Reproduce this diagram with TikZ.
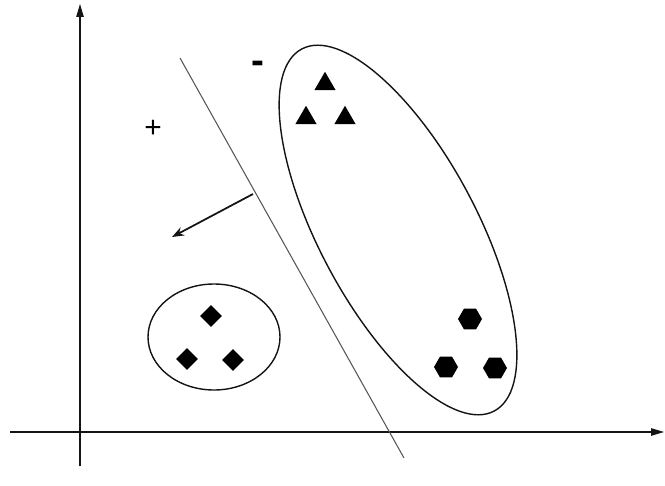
\documentclass[tikz,border=0pt]{standalone}
\usepackage{fontspec}
\setmainfont{Liberation Sans}
\usepackage{tikz}
\usetikzlibrary{arrows.meta,shapes.geometric}
\definecolor{ink}{RGB}{20,20,20}
\definecolor{sep}{RGB}{85,85,85}
\tikzset{
  axis/.style={draw=ink,line width=0.6pt,-{Triangle[length=2.6mm,width=1.5mm]}},
  hyper/.style={draw=sep,line width=0.6pt},
  normal/.style={draw=ink,line width=1pt,-{Stealth[length=2.4mm,width=1.8mm]}},
  group/.style={draw=ink,line width=0.8pt},
  tri/.style={regular polygon,regular polygon sides=3,fill=black,inner sep=0pt,minimum size=4.9mm},
  dia/.style={diamond,fill=black,inner sep=0pt,minimum size=4.4mm},
  hexa/.style={regular polygon,regular polygon sides=6,fill=black,inner sep=0pt,minimum size=4.8mm},
  sgn/.style={inner sep=1pt},
}

\begin{document}
\begin{tikzpicture}[x=0.02cm,y=-0.02cm]
  \useasboundingbox (0,0) rectangle (665,486);
  % axes
  \coordinate (ybot) at (80,466);
  \coordinate (ytop) at (80,4);
  \coordinate (xlft) at (10,432);
  \coordinate (xrgt) at (664,432);
  \draw[axis] (ybot) -- (ytop);
  \draw[axis] (xlft) -- (xrgt);
  % separating line and its normal
  \coordinate (h1) at (180,58);
  \coordinate (h2) at (404,458);
  \draw[hyper] (h1) -- (h2);
  \coordinate (foot) at (253,194);
  \coordinate (wtip) at (172,237);
  \draw[normal] (foot) -- (wtip);
  \node[sgn,font=\fontsize{17}{17}\selectfont] (plus) at (153,129) {+};
  \node[sgn,font=\bfseries\fontsize{22}{22}\selectfont] (minus) at (258,67) {-};
  % groups
  \coordinate (cbig) at (398,230);
  \draw[group,rotate around={28:(cbig)}] (cbig) ellipse [x radius=79, y radius=205];
  \coordinate (csmall) at (214,337);
  \draw[group] (csmall) ellipse [x radius=66, y radius=53];
  % points
  \foreach \i/\p in {1/{(325,84)},2/{(306,118)},3/{(345,118)}}
    \node[tri] (t\i) at \p {};
  \foreach \i/\p in {1/{(211,316)},2/{(187,359)},3/{(233,360)}}
    \node[dia] (d\i) at \p {};
  \foreach \i/\p in {1/{(470,319)},2/{(446,367)},3/{(495,368)}}
    \node[hexa] (h\i) at \p {};
\end{tikzpicture}
\end{document}
